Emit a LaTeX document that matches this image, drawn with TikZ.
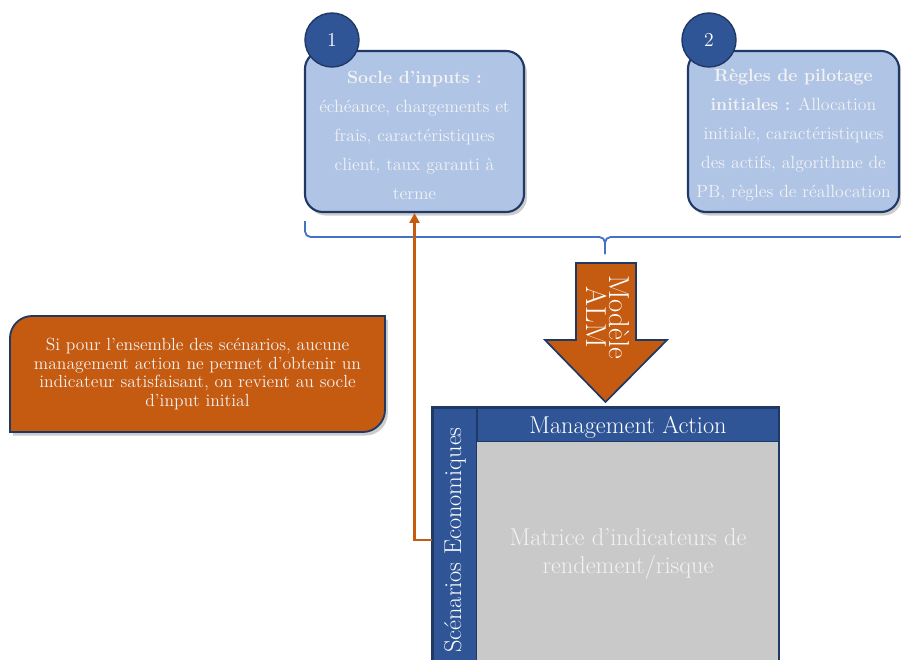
\documentclass[tikz,border=0pt]{standalone}
\usepackage{fontspec}
\usetikzlibrary{shadows,arrows.meta}

\definecolor{bleuclair}{HTML}{B0C4E6}
\definecolor{marine}{HTML}{1F3864}
\definecolor{bleufonce}{HTML}{2F5597}
\definecolor{orangealm}{HTML}{C55A11}
\definecolor{grismat}{HTML}{C9C9C9}
\definecolor{bleutrait}{HTML}{4472C4}
\definecolor{blanccasse}{HTML}{F2F2F2}

\tikzset{
    ombre/.style={drop shadow={shadow xshift=2pt, shadow yshift=-2.5pt, opacity=0.4}},
    entree/.style={draw=marine, line width=1.5pt, fill=bleuclair, rounded corners=0.45cm, ombre},
    entreetexte/.style={text=blanccasse, align=center, font=\fontsize{12.6}{20.6}\selectfont},
    numero/.style={circle, draw=marine, line width=1pt, fill=bleufonce, text=white,
        minimum size=1.35cm, inner sep=0pt, font=\fontsize{14}{16}\selectfont},
    accolade/.style={draw=bleutrait, line width=1.3pt, rounded corners=4pt},
    bloc/.style={draw=marine, line width=1.2pt, fill=orangealm},
    colonne/.style={draw=marine, line width=1pt, fill=bleufonce, text=white, inner sep=0pt,
        font=\fontsize{17.3}{19}\selectfont},
    entete/.style={draw=marine, line width=1pt, fill=bleufonce, text=white, inner sep=0pt,
        text depth=0pt, font=\fontsize{17.3}{19}\selectfont},
    cellule/.style={fill=grismat, text=blanccasse, align=center, inner sep=0pt,
        font=\fontsize{17.3}{20}\selectfont},
    cadre/.style={draw=marine, line width=1.5pt},
    remarque/.style={draw=marine, line width=1.3pt, fill=orangealm, ombre},
    remarquetexte/.style={text=blanccasse, align=center, font=\fontsize{12.5}{13.3}\selectfont},
    retourfleche/.style={draw=orangealm, line width=1.8pt, -{Triangle[width=7pt,length=7pt]}}
}

\begin{document}
\begin{tikzpicture}[x=0.025cm, y=-0.025cm]
    \useasboundingbox (0,0) rectangle (901,659);
    \clip (0,0) rectangle (901,659);

    \node[entree, minimum width=5.475cm, minimum height=4.025cm] (socle) at (414.5,131.5) {};
    \node[entreetexte] (socletexte) at (414.5,135.5)
        {\textbf{Socle d'inputs :}\\ échéance, chargements et\\
        frais, caractéristiques\\ client, taux garanti à\\ terme};
    \node[entree, minimum width=5.275cm, minimum height=4.025cm] (regles) at (793.5,131.5) {};
    \node[entreetexte] (reglestexte) at (793.5,135.5)
        {\textbf{Règles de pilotage}\\ \textbf{initiales :} Allocation\\
        initiale, caractéristiques\\ des actifs, algorithme de\\ PB, règles de réallocation};
    \node[numero] (num1) at (332,40) {1};
    \node[numero] (num2) at (709,40) {2};

    \draw[accolade] (305,221) -- (305,237) -- (605,237) -- (605,254);
    \draw[accolade] (605,254) -- (605,237) -- (905,237) -- (905,221);

    \draw[bloc] (576,263) -- (636,263) -- (636,340) -- (667,340) -- (605.5,402) --
        (545,340) -- (576,340) -- cycle;
    \node[rotate=-90, text=white, align=center, font=\fontsize{20.5}{17}\selectfont] (alm)
        at (608,317) {Modèle\\ALM};

    \node[colonne, minimum width=1.1cm, minimum height=6.6cm] (scen) at (455,540)
        {\rotatebox{90}{Scénarios Economiques}};
    \node[entete, minimum width=7.55cm, minimum height=0.85cm] (gestion) at (628,425)
        {Management Action};
    \node[cellule, minimum width=7.55cm, minimum height=5.625cm] (matrice) at (628,554.5)
        {Matrice d'indicateurs de\\ rendement/risque};
    \draw[cadre] (scen.north west) rectangle (matrice.south east);

    \draw[remarque] (10,432) -- (10,338) .. controls (10,326) and (20,316) .. (32,316) --
        (385,316) -- (385,410) .. controls (385,422) and (375,432) .. (363,432) -- cycle;
    \node[remarquetexte] (retour) at (197.5,374)
        {Si pour l'ensemble des scénarios, aucune\\ management action ne permet d'obtenir un\\
        indicateur satisfaisant, on revient au socle\\ d'input initial};

    \draw[retourfleche] (scen.west) -| (socle.south);
\end{tikzpicture}
\end{document}
